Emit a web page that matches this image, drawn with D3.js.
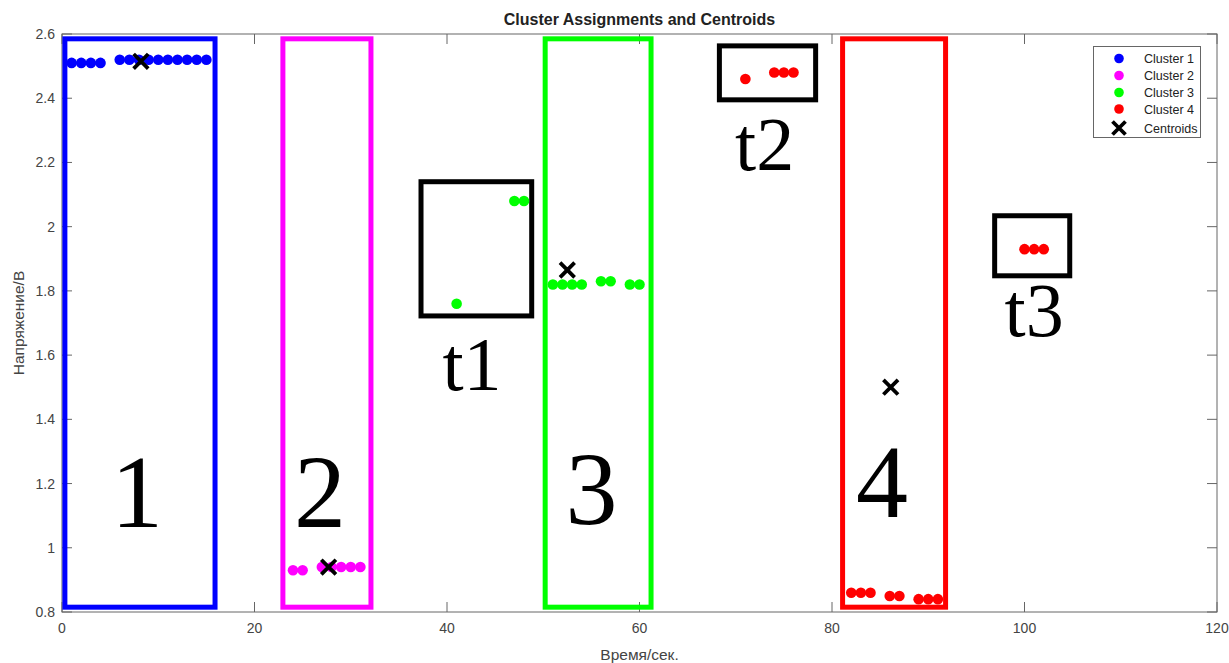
<!DOCTYPE html>
<html><head><meta charset="utf-8">
<script src="https://cdn.jsdelivr.net/npm/d3@7"></script>
<style>body{margin:0;background:#fff}svg{display:block}</style>
</head><body>
<svg id="c" width="1229" height="663"></svg>
<script>
// ---- data ----
const cluster1X = [1,2,3,4,6,7,8,9,10,11,12,13,14,15];
const cluster1Y = [2.51,2.51,2.51,2.51,2.52,2.52,2.52,2.52,2.52,2.52,2.52,2.52,2.52,2.52];
const cluster2X = [24,25,27,28,29,30,31];
const cluster2Y = [0.93,0.93,0.94,0.94,0.94,0.94,0.94];
const cluster3X = [41,47,48,51,52,53,54,56,57,59,60];
const cluster3Y = [1.76,2.08,2.08,1.82,1.82,1.82,1.82,1.83,1.83,1.82,1.82];
const cluster4X = [71,74,75,76,82,83,84,86,87,89,90,91,100,101,102];
const cluster4Y = [2.46,2.48,2.48,2.48,0.86,0.86,0.86,0.85,0.85,0.84,0.84,0.84,1.93,1.93,1.93];
const centroidX = [8.2,27.7,52.5,86.1];
const centroidY = [2.515,0.94,1.865,1.50];
const seriesNames = ["Cluster 1","Cluster 2","Cluster 3","Cluster 4"];
const seriesColors = ["#0000ff","#ff00ff","#00ff00","#ff0000"];
const xTicks = [0,20,40,60,80,100,120];
const yTicks = [0.8,1,1.2,1.4,1.6,1.8,2,2.2,2.4,2.6];
// annotation boxes (data units): x0,x1,y0,y1
const boxNames = ["1","2","3","4","t1","t2","t3"];
const boxX0 = [0.3,22.95,50.2,81.1,37.3,68.3,96.9];
const boxX1 = [15.9,32.1,61.2,91.8,48.8,78.3,104.7];
const boxY0 = [0.815,0.815,0.815,0.815,1.722,2.395,1.847];
const boxY1 = [2.585,2.585,2.585,2.585,2.14,2.563,2.034];
const boxColors = ["#0000ff","#ff00ff","#00ff00","#ff0000","#000","#000","#000"];
// big labels (data units, baseline)
const labelText = ["1","2","3","4","t1","t2","t3"];
const labelX = [7.8,26.8,55.0,85.2,42.6,73.0,101.0];
const labelY = [1.065,1.065,1.075,1.095,1.49,2.175,1.66];
const labelSize = [104,104,104,104,76,76,76];

// ---- layout ----
const L=62,R=1217,T=34,B=612;
const svg=d3.select("#c");
svg.append("rect").attr("width",1229).attr("height",663).attr("fill","#fff");
const x=d3.scaleLinear().domain([0,120]).range([L,R]);
const y=d3.scaleLinear().domain([0.8,2.6]).range([B,T]);
const axisColor="#666", textColor="#444", fontS="Liberation Sans, Arial, sans-serif";

const g=svg.append("g");
// axes box
const tl=10;
const ax=g.append("g").attr("stroke",axisColor).attr("stroke-width",1).attr("fill","none");
ax.append("rect").attr("x",L).attr("y",T).attr("width",R-L).attr("height",B-T);
xTicks.forEach(v=>{
  ax.append("line").attr("x1",x(v)).attr("x2",x(v)).attr("y1",B).attr("y2",B-tl);
  ax.append("line").attr("x1",x(v)).attr("x2",x(v)).attr("y1",T).attr("y2",T+tl);
});
yTicks.forEach(v=>{
  ax.append("line").attr("x1",L).attr("x2",L+tl).attr("y1",y(v)).attr("y2",y(v));
  ax.append("line").attr("x1",R).attr("x2",R-tl).attr("y1",y(v)).attr("y2",y(v));
});
g.selectAll(".xt").data(xTicks).enter().append("text")
  .attr("x",d=>x(d)).attr("y",B+21).attr("text-anchor","middle")
  .attr("font-family",fontS).attr("font-size",14).attr("fill",textColor).text(d=>d3.format("")(d));
g.selectAll(".yt").data(yTicks).enter().append("text")
  .attr("x",L-7).attr("y",d=>y(d)+5).attr("text-anchor","end")
  .attr("font-family",fontS).attr("font-size",14).attr("fill",textColor).text(d=>d3.format("")(+d.toFixed(1)));

// title & labels
svg.append("text").attr("x",(L+R)/2).attr("y",25).attr("text-anchor","middle")
  .attr("font-family",fontS).attr("font-size",16).attr("font-weight","bold").attr("fill","#222")
  .text("Cluster Assignments and Centroids");
svg.append("text").attr("x",(L+R)/2).attr("y",660).attr("text-anchor","middle")
  .attr("font-family",fontS).attr("font-size",15.5).attr("fill",textColor).text("Время/сек.");
svg.append("text").attr("transform",`translate(23.5,${(T+B)/2}) rotate(-90)`).attr("text-anchor","middle")
  .attr("font-family",fontS).attr("font-size",15.5).attr("fill",textColor).text("Напряжение/В");

// annotation boxes
boxNames.forEach((n,i)=>{
  g.append("rect").attr("x",x(boxX0[i])).attr("y",y(boxY1[i]))
    .attr("width",x(boxX1[i])-x(boxX0[i])).attr("height",y(boxY0[i])-y(boxY1[i]))
    .attr("fill","none").attr("stroke",boxColors[i]).attr("stroke-width",5);
});
labelText.forEach((t,i)=>{
  g.append("text").attr("x",x(labelX[i])).attr("y",y(labelY[i])).attr("text-anchor","middle")
    .attr("font-family","Liberation Serif, Times New Roman, serif").attr("font-size",labelSize[i])
    .attr("fill","#000").text(t);
});

// points
const series=[[cluster1X,cluster1Y],[cluster2X,cluster2Y],[cluster3X,cluster3Y],[cluster4X,cluster4Y]];
series.forEach((s,k)=>{
  g.append("g").selectAll("circle").data(s[0].map((v,i)=>[v,s[1][i]])).enter().append("circle")
    .attr("cx",d=>x(d[0])).attr("cy",d=>y(d[1])).attr("r",5.3).attr("fill",seriesColors[k]);
});
// centroids
function cross(sel,cx,cy,h,w){
  sel.append("path").attr("d",`M${cx-h},${cy-h}L${cx+h},${cy+h}M${cx-h},${cy+h}L${cx+h},${cy-h}`)
    .attr("stroke","#000").attr("stroke-width",w).attr("fill","none");
}
centroidX.forEach((v,i)=>cross(g,x(v),y(centroidY[i]),7.3,3.8));

// legend
const lg=svg.append("g");
lg.append("rect").attr("x",1093.5).attr("y",46.5).attr("width",107).attr("height",91)
  .attr("fill","#fff").attr("stroke","#666").attr("stroke-width",1);
const rowY=[58.5,75.5,92.5,109,128];
seriesNames.forEach((n,i)=>{
  lg.append("circle").attr("cx",1119).attr("cy",rowY[i]).attr("r",4.8).attr("fill",seriesColors[i]);
  lg.append("text").attr("x",1144).attr("y",rowY[i]+4.5).attr("font-family",fontS).attr("font-size",12.5)
    .attr("fill","#222").text(n);
});
cross(lg,1119,rowY[4],6.5,3.8);
lg.append("text").attr("x",1144).attr("y",rowY[4]+4.5).attr("font-family",fontS).attr("font-size",12.5)
  .attr("fill","#222").text("Centroids");
</script>
</body></html>
